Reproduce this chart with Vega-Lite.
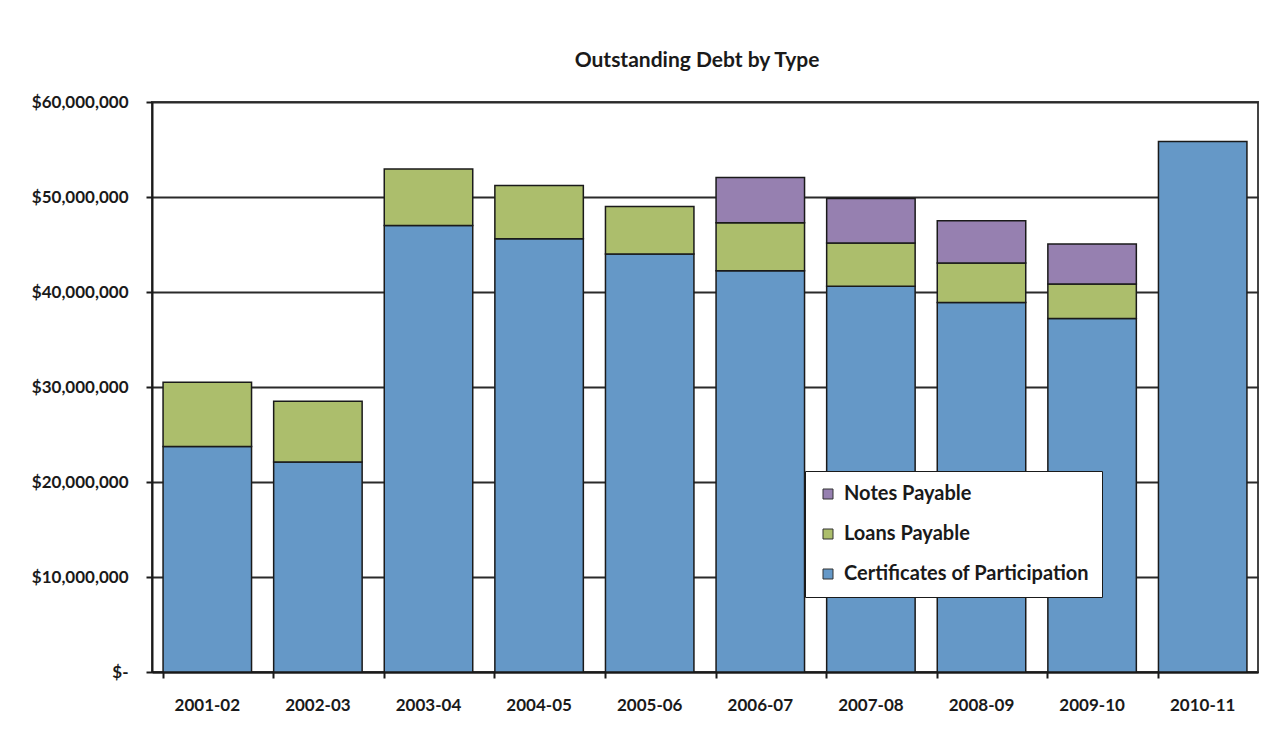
{
  "$schema": "https://vega.github.io/schema/vega-lite/v6.json",
  "autosize": {"type": "none"},
  "padding": {"left": 152, "top": 102, "right": 19, "bottom": 70},
  "width": 1106,
  "height": 570,
  "background": "white",
  "title": {
    "text": "Outstanding Debt by Type",
    "font": "Lato",
    "fontSize": 21,
    "fontWeight": "bold",
    "color": "#1a1a1a",
    "anchor": "middle",
    "frame": "group",
    "offset": 22,
    "dx": -8
  },
  "data": {
    "values": [
      {"year": "2001-02", "type": "Certificates of Participation", "amount": 23750000},
      {"year": "2001-02", "type": "Loans Payable", "amount": 6750000},
      {"year": "2002-03", "type": "Certificates of Participation", "amount": 22100000},
      {"year": "2002-03", "type": "Loans Payable", "amount": 6400000},
      {"year": "2003-04", "type": "Certificates of Participation", "amount": 47000000},
      {"year": "2003-04", "type": "Loans Payable", "amount": 5950000},
      {"year": "2004-05", "type": "Certificates of Participation", "amount": 45600000},
      {"year": "2004-05", "type": "Loans Payable", "amount": 5600000},
      {"year": "2005-06", "type": "Certificates of Participation", "amount": 44000000},
      {"year": "2005-06", "type": "Loans Payable", "amount": 5000000},
      {"year": "2006-07", "type": "Certificates of Participation", "amount": 42250000},
      {"year": "2006-07", "type": "Loans Payable", "amount": 5050000},
      {"year": "2006-07", "type": "Notes Payable", "amount": 4750000},
      {"year": "2007-08", "type": "Certificates of Participation", "amount": 40600000},
      {"year": "2007-08", "type": "Loans Payable", "amount": 4550000},
      {"year": "2007-08", "type": "Notes Payable", "amount": 4700000},
      {"year": "2008-09", "type": "Certificates of Participation", "amount": 38900000},
      {"year": "2008-09", "type": "Loans Payable", "amount": 4150000},
      {"year": "2008-09", "type": "Notes Payable", "amount": 4450000},
      {"year": "2009-10", "type": "Certificates of Participation", "amount": 37200000},
      {"year": "2009-10", "type": "Loans Payable", "amount": 3650000},
      {"year": "2009-10", "type": "Notes Payable", "amount": 4200000},
      {"year": "2010-11", "type": "Certificates of Participation", "amount": 55850000}
    ]
  },
  "mark": {"type": "bar", "stroke": "#1a1a1a", "strokeWidth": 1.5},
  "encoding": {
    "x": {
      "field": "year",
      "type": "nominal",
      "sort": null,
      "scale": {"paddingInner": 0.2, "paddingOuter": 0.1},
      "axis": {
        "title": null,
        "labelAngle": 0,
        "labelFont": "Lato",
        "labelFontSize": 17,
        "labelFontWeight": "bold",
        "labelColor": "#1a1a1a",
        "labelPadding": 19,
        "bandPosition": 0,
        "tickSize": 6,
        "tickColor": "#1a1a1a",
        "tickWidth": 2,
        "domainColor": "#1a1a1a",
        "domainWidth": 2
      }
    },
    "y": {
      "field": "amount",
      "type": "quantitative",
      "aggregate": "sum",
      "stack": "zero",
      "scale": {"domain": [0, 60000000], "nice": false},
      "axis": {
        "title": null,
        "values": [0, 10000000, 20000000, 30000000, 40000000, 50000000, 60000000],
        "labelExpr": "datum.value == 0 ? '$-' : format(datum.value, '$,')",
        "labelFont": "Lato",
        "labelFontSize": 17,
        "labelFontWeight": "bold",
        "labelColor": "#1a1a1a",
        "labelPadding": 18,
        "tickSize": 6,
        "tickColor": "#1a1a1a",
        "tickWidth": 2,
        "domainColor": "#1a1a1a",
        "domainWidth": 2,
        "grid": true,
        "gridColor": "#2a2a2a",
        "gridWidth": 2
      }
    },
    "color": {
      "field": "type",
      "type": "nominal",
      "sort": "descending",
      "scale": {
        "domain": ["Notes Payable", "Loans Payable", "Certificates of Participation"],
        "range": ["#9680B0", "#ACBE6C", "#6598C7"]
      },
      "legend": {
        "title": null,
        "orient": "none",
        "legendX": 653,
        "legendY": 369,
        "fillColor": "white",
        "strokeColor": "#1a1a1a",
        "padding": 13,
        "symbolType": "square",
        "symbolSize": 100,
        "symbolStrokeColor": "#333333",
        "symbolStrokeWidth": 1,
        "symbolOpacity": 1,
        "labelFont": "Lato",
        "labelFontSize": 20,
        "labelFontWeight": "bold",
        "labelColor": "#1a1a1a",
        "labelOffset": 6,
        "labelLimit": 400,
        "rowPadding": 20
      }
    },
    "order": {"field": "type", "sort": "ascending"}
  },
  "config": {
    "view": {"stroke": "#444444", "strokeWidth": 2}
  }
}
